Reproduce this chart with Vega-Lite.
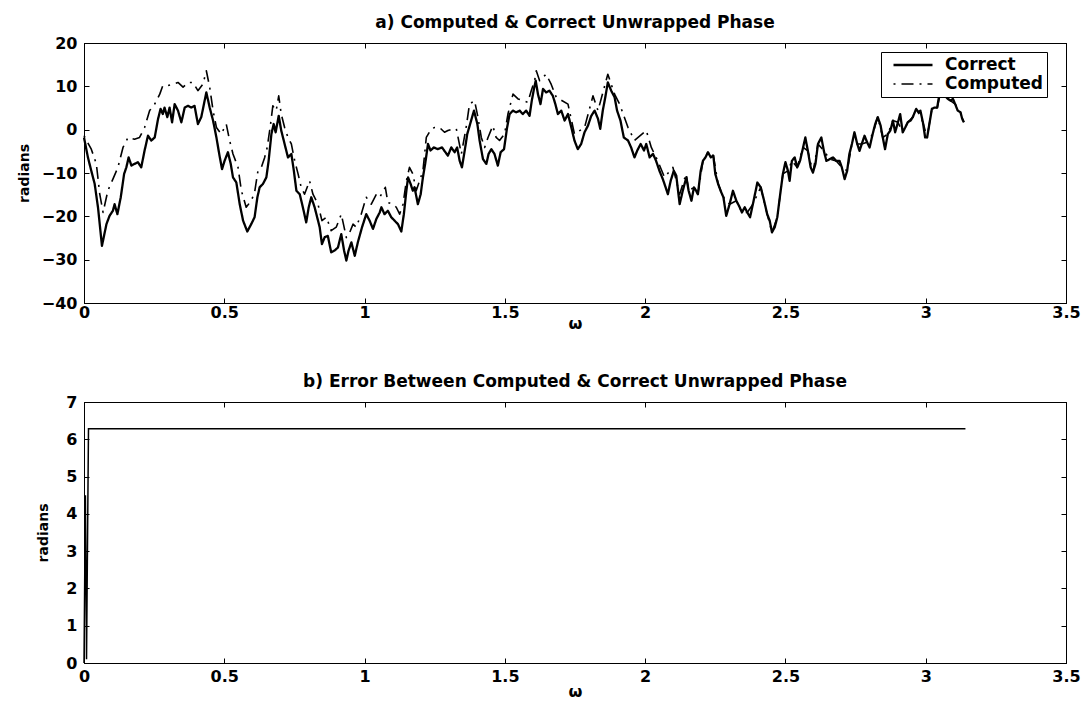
{
  "$schema": "https://vega.github.io/schema/vega-lite/v6.json",
  "background": "white",
  "padding": {"left": 16, "top": 13, "right": 5, "bottom": 5},
  "config": {
    "font": "DejaVu Sans",
    "view": {"stroke": "black", "strokeWidth": 1},
    "axis": {"grid": false, "domainColor": "black", "domainWidth": 1, "tickColor": "black", "tickSize": -5, "tickWidth": 1, "labelColor": "black", "labelFont": "DejaVu Sans", "labelFontSize": 16, "labelFontWeight": "bold", "titleColor": "black", "titleFont": "DejaVu Sans", "titleFontWeight": "bold", "labelFlush": false, "labelOverlap": false},
    "axisX": {"titleFontSize": 16, "titlePadding": -1, "labelPadding": 10},
    "axisY": {"titleFontSize": 14, "labelPadding": 12},
    "title": {"font": "DejaVu Sans", "fontSize": 17, "fontWeight": "bold", "color": "black", "anchor": "middle", "frame": "group", "baseline": "alphabetic", "offset": 3}
  },
  "datasets": {
    "phase": [
      {"w": 0.000, "series": "Correct", "phase": -1.8},
      {"w": 0.014, "series": "Correct", "phase": -6.4},
      {"w": 0.026, "series": "Correct", "phase": -9.5},
      {"w": 0.038, "series": "Correct", "phase": -12.5},
      {"w": 0.050, "series": "Correct", "phase": -18.0},
      {"w": 0.064, "series": "Correct", "phase": -26.8},
      {"w": 0.080, "series": "Correct", "phase": -21.8},
      {"w": 0.091, "series": "Correct", "phase": -19.9},
      {"w": 0.103, "series": "Correct", "phase": -18.7},
      {"w": 0.109, "series": "Correct", "phase": -17.2},
      {"w": 0.119, "series": "Correct", "phase": -19.5},
      {"w": 0.131, "series": "Correct", "phase": -15.6},
      {"w": 0.143, "series": "Correct", "phase": -10.2},
      {"w": 0.151, "series": "Correct", "phase": -8.7},
      {"w": 0.159, "series": "Correct", "phase": -6.4},
      {"w": 0.169, "series": "Correct", "phase": -8.3},
      {"w": 0.180, "series": "Correct", "phase": -7.9},
      {"w": 0.192, "series": "Correct", "phase": -7.5},
      {"w": 0.204, "series": "Correct", "phase": -8.7},
      {"w": 0.216, "series": "Correct", "phase": -4.8},
      {"w": 0.228, "series": "Correct", "phase": -1.4},
      {"w": 0.240, "series": "Correct", "phase": -2.5},
      {"w": 0.252, "series": "Correct", "phase": -1.8},
      {"w": 0.264, "series": "Correct", "phase": 2.5},
      {"w": 0.273, "series": "Correct", "phase": 4.8},
      {"w": 0.281, "series": "Correct", "phase": 3.6},
      {"w": 0.287, "series": "Correct", "phase": 5.1},
      {"w": 0.297, "series": "Correct", "phase": 2.9},
      {"w": 0.305, "series": "Correct", "phase": 5.1},
      {"w": 0.314, "series": "Correct", "phase": 1.7},
      {"w": 0.323, "series": "Correct", "phase": 5.9},
      {"w": 0.335, "series": "Correct", "phase": 4.4},
      {"w": 0.347, "series": "Correct", "phase": 1.7},
      {"w": 0.359, "series": "Correct", "phase": 5.1},
      {"w": 0.371, "series": "Correct", "phase": 5.5},
      {"w": 0.382, "series": "Correct", "phase": 5.1},
      {"w": 0.394, "series": "Correct", "phase": 5.5},
      {"w": 0.406, "series": "Correct", "phase": 1.3},
      {"w": 0.418, "series": "Correct", "phase": 2.9},
      {"w": 0.436, "series": "Correct", "phase": 8.6},
      {"w": 0.448, "series": "Correct", "phase": 5.1},
      {"w": 0.460, "series": "Correct", "phase": 2.1},
      {"w": 0.472, "series": "Correct", "phase": -1.8},
      {"w": 0.483, "series": "Correct", "phase": -6.0},
      {"w": 0.492, "series": "Correct", "phase": -9.1},
      {"w": 0.501, "series": "Correct", "phase": -7.2},
      {"w": 0.513, "series": "Correct", "phase": -5.2},
      {"w": 0.523, "series": "Correct", "phase": -7.9},
      {"w": 0.531, "series": "Correct", "phase": -11.0},
      {"w": 0.543, "series": "Correct", "phase": -12.2},
      {"w": 0.555, "series": "Correct", "phase": -17.2},
      {"w": 0.567, "series": "Correct", "phase": -21.0},
      {"w": 0.582, "series": "Correct", "phase": -23.5},
      {"w": 0.596, "series": "Correct", "phase": -21.8},
      {"w": 0.608, "series": "Correct", "phase": -20.2},
      {"w": 0.618, "series": "Correct", "phase": -15.6},
      {"w": 0.626, "series": "Correct", "phase": -13.3},
      {"w": 0.638, "series": "Correct", "phase": -12.5},
      {"w": 0.650, "series": "Correct", "phase": -11.0},
      {"w": 0.658, "series": "Correct", "phase": -7.2},
      {"w": 0.668, "series": "Correct", "phase": -1.0},
      {"w": 0.676, "series": "Correct", "phase": 1.3},
      {"w": 0.683, "series": "Correct", "phase": -0.6},
      {"w": 0.694, "series": "Correct", "phase": 3.2},
      {"w": 0.703, "series": "Correct", "phase": -0.2},
      {"w": 0.715, "series": "Correct", "phase": -3.3},
      {"w": 0.727, "series": "Correct", "phase": -6.4},
      {"w": 0.739, "series": "Correct", "phase": -5.6},
      {"w": 0.748, "series": "Correct", "phase": -9.5},
      {"w": 0.757, "series": "Correct", "phase": -14.1},
      {"w": 0.769, "series": "Correct", "phase": -14.9},
      {"w": 0.780, "series": "Correct", "phase": -17.9},
      {"w": 0.792, "series": "Correct", "phase": -21.4},
      {"w": 0.801, "series": "Correct", "phase": -17.9},
      {"w": 0.810, "series": "Correct", "phase": -15.6},
      {"w": 0.822, "series": "Correct", "phase": -17.9},
      {"w": 0.831, "series": "Correct", "phase": -20.2},
      {"w": 0.840, "series": "Correct", "phase": -22.5},
      {"w": 0.848, "series": "Correct", "phase": -26.4},
      {"w": 0.858, "series": "Correct", "phase": -24.8},
      {"w": 0.869, "series": "Correct", "phase": -24.5},
      {"w": 0.881, "series": "Correct", "phase": -28.3},
      {"w": 0.893, "series": "Correct", "phase": -27.9},
      {"w": 0.905, "series": "Correct", "phase": -27.2},
      {"w": 0.917, "series": "Correct", "phase": -24.1},
      {"w": 0.927, "series": "Correct", "phase": -27.9},
      {"w": 0.935, "series": "Correct", "phase": -30.2},
      {"w": 0.943, "series": "Correct", "phase": -27.9},
      {"w": 0.953, "series": "Correct", "phase": -26.0},
      {"w": 0.965, "series": "Correct", "phase": -29.1},
      {"w": 0.976, "series": "Correct", "phase": -26.0},
      {"w": 0.991, "series": "Correct", "phase": -22.5},
      {"w": 1.006, "series": "Correct", "phase": -19.5},
      {"w": 1.018, "series": "Correct", "phase": -21.0},
      {"w": 1.030, "series": "Correct", "phase": -22.9},
      {"w": 1.042, "series": "Correct", "phase": -20.6},
      {"w": 1.054, "series": "Correct", "phase": -19.1},
      {"w": 1.060, "series": "Correct", "phase": -17.9},
      {"w": 1.071, "series": "Correct", "phase": -19.5},
      {"w": 1.083, "series": "Correct", "phase": -18.7},
      {"w": 1.095, "series": "Correct", "phase": -20.2},
      {"w": 1.107, "series": "Correct", "phase": -21.0},
      {"w": 1.119, "series": "Correct", "phase": -21.8},
      {"w": 1.131, "series": "Correct", "phase": -23.5},
      {"w": 1.140, "series": "Correct", "phase": -19.5},
      {"w": 1.149, "series": "Correct", "phase": -14.1},
      {"w": 1.155, "series": "Correct", "phase": -11.0},
      {"w": 1.164, "series": "Correct", "phase": -12.5},
      {"w": 1.172, "series": "Correct", "phase": -14.1},
      {"w": 1.178, "series": "Correct", "phase": -13.3},
      {"w": 1.190, "series": "Correct", "phase": -17.2},
      {"w": 1.200, "series": "Correct", "phase": -14.9},
      {"w": 1.208, "series": "Correct", "phase": -11.0},
      {"w": 1.216, "series": "Correct", "phase": -7.9},
      {"w": 1.226, "series": "Correct", "phase": -3.3},
      {"w": 1.235, "series": "Correct", "phase": -4.8},
      {"w": 1.247, "series": "Correct", "phase": -4.1},
      {"w": 1.261, "series": "Correct", "phase": -4.5},
      {"w": 1.276, "series": "Correct", "phase": -4.1},
      {"w": 1.288, "series": "Correct", "phase": -5.2},
      {"w": 1.297, "series": "Correct", "phase": -6.0},
      {"w": 1.309, "series": "Correct", "phase": -4.1},
      {"w": 1.321, "series": "Correct", "phase": -5.2},
      {"w": 1.330, "series": "Correct", "phase": -4.1},
      {"w": 1.339, "series": "Correct", "phase": -7.2},
      {"w": 1.347, "series": "Correct", "phase": -8.7},
      {"w": 1.357, "series": "Correct", "phase": -4.8},
      {"w": 1.366, "series": "Correct", "phase": -1.0},
      {"w": 1.378, "series": "Correct", "phase": 1.7},
      {"w": 1.390, "series": "Correct", "phase": 4.4},
      {"w": 1.402, "series": "Correct", "phase": 1.3},
      {"w": 1.410, "series": "Correct", "phase": -2.5},
      {"w": 1.422, "series": "Correct", "phase": -6.8},
      {"w": 1.434, "series": "Correct", "phase": -7.9},
      {"w": 1.442, "series": "Correct", "phase": -5.6},
      {"w": 1.452, "series": "Correct", "phase": -4.5},
      {"w": 1.463, "series": "Correct", "phase": -5.6},
      {"w": 1.475, "series": "Correct", "phase": -8.3},
      {"w": 1.485, "series": "Correct", "phase": -5.2},
      {"w": 1.497, "series": "Correct", "phase": -4.5},
      {"w": 1.508, "series": "Correct", "phase": 0.5},
      {"w": 1.517, "series": "Correct", "phase": 3.6},
      {"w": 1.529, "series": "Correct", "phase": 4.4},
      {"w": 1.541, "series": "Correct", "phase": 4.0},
      {"w": 1.553, "series": "Correct", "phase": 4.4},
      {"w": 1.564, "series": "Correct", "phase": 3.6},
      {"w": 1.576, "series": "Correct", "phase": 4.4},
      {"w": 1.588, "series": "Correct", "phase": 3.2},
      {"w": 1.596, "series": "Correct", "phase": 6.7},
      {"w": 1.604, "series": "Correct", "phase": 9.5},
      {"w": 1.610, "series": "Correct", "phase": 11.3},
      {"w": 1.618, "series": "Correct", "phase": 8.2},
      {"w": 1.627, "series": "Correct", "phase": 5.9},
      {"w": 1.636, "series": "Correct", "phase": 9.4},
      {"w": 1.647, "series": "Correct", "phase": 8.6},
      {"w": 1.659, "series": "Correct", "phase": 9.0},
      {"w": 1.671, "series": "Correct", "phase": 7.8},
      {"w": 1.680, "series": "Correct", "phase": 5.9},
      {"w": 1.689, "series": "Correct", "phase": 3.6},
      {"w": 1.701, "series": "Correct", "phase": 4.4},
      {"w": 1.713, "series": "Correct", "phase": 2.1},
      {"w": 1.725, "series": "Correct", "phase": 3.6},
      {"w": 1.737, "series": "Correct", "phase": 0.5},
      {"w": 1.748, "series": "Correct", "phase": -2.5},
      {"w": 1.760, "series": "Correct", "phase": -4.5},
      {"w": 1.772, "series": "Correct", "phase": -3.3},
      {"w": 1.784, "series": "Correct", "phase": -0.6},
      {"w": 1.796, "series": "Correct", "phase": 0.9},
      {"w": 1.808, "series": "Correct", "phase": 3.2},
      {"w": 1.820, "series": "Correct", "phase": 4.4},
      {"w": 1.832, "series": "Correct", "phase": 2.5},
      {"w": 1.840, "series": "Correct", "phase": 0.2},
      {"w": 1.849, "series": "Correct", "phase": 4.4},
      {"w": 1.858, "series": "Correct", "phase": 7.5},
      {"w": 1.867, "series": "Correct", "phase": 10.9},
      {"w": 1.879, "series": "Correct", "phase": 9.0},
      {"w": 1.891, "series": "Correct", "phase": 7.5},
      {"w": 1.900, "series": "Correct", "phase": 4.4},
      {"w": 1.912, "series": "Correct", "phase": 2.1},
      {"w": 1.924, "series": "Correct", "phase": -1.8},
      {"w": 1.939, "series": "Correct", "phase": -2.5},
      {"w": 1.950, "series": "Correct", "phase": -4.1},
      {"w": 1.962, "series": "Correct", "phase": -6.4},
      {"w": 1.972, "series": "Correct", "phase": -4.8},
      {"w": 1.984, "series": "Correct", "phase": -3.3},
      {"w": 1.996, "series": "Correct", "phase": -4.8},
      {"w": 2.004, "series": "Correct", "phase": -3.3},
      {"w": 2.016, "series": "Correct", "phase": -6.4},
      {"w": 2.028, "series": "Correct", "phase": -5.6},
      {"w": 2.039, "series": "Correct", "phase": -7.2},
      {"w": 2.051, "series": "Correct", "phase": -9.5},
      {"w": 2.063, "series": "Correct", "phase": -11.4},
      {"w": 2.073, "series": "Correct", "phase": -13.3},
      {"w": 2.081, "series": "Correct", "phase": -14.9},
      {"w": 2.091, "series": "Correct", "phase": -11.8},
      {"w": 2.102, "series": "Correct", "phase": -9.5},
      {"w": 2.111, "series": "Correct", "phase": -10.6},
      {"w": 2.123, "series": "Correct", "phase": -17.2},
      {"w": 2.134, "series": "Correct", "phase": -14.1},
      {"w": 2.147, "series": "Correct", "phase": -11.0},
      {"w": 2.155, "series": "Correct", "phase": -14.1},
      {"w": 2.165, "series": "Correct", "phase": -16.4},
      {"w": 2.174, "series": "Correct", "phase": -13.3},
      {"w": 2.182, "series": "Correct", "phase": -14.1},
      {"w": 2.188, "series": "Correct", "phase": -14.9},
      {"w": 2.198, "series": "Correct", "phase": -9.5},
      {"w": 2.206, "series": "Correct", "phase": -7.2},
      {"w": 2.215, "series": "Correct", "phase": -6.4},
      {"w": 2.224, "series": "Correct", "phase": -5.2},
      {"w": 2.234, "series": "Correct", "phase": -6.4},
      {"w": 2.243, "series": "Correct", "phase": -6.0},
      {"w": 2.250, "series": "Correct", "phase": -10.2},
      {"w": 2.260, "series": "Correct", "phase": -12.5},
      {"w": 2.269, "series": "Correct", "phase": -14.1},
      {"w": 2.279, "series": "Correct", "phase": -15.6},
      {"w": 2.289, "series": "Correct", "phase": -19.9},
      {"w": 2.301, "series": "Correct", "phase": -17.2},
      {"w": 2.313, "series": "Correct", "phase": -14.1},
      {"w": 2.325, "series": "Correct", "phase": -16.4},
      {"w": 2.337, "series": "Correct", "phase": -17.9},
      {"w": 2.345, "series": "Correct", "phase": -19.1},
      {"w": 2.355, "series": "Correct", "phase": -17.9},
      {"w": 2.364, "series": "Correct", "phase": -19.1},
      {"w": 2.374, "series": "Correct", "phase": -20.2},
      {"w": 2.384, "series": "Correct", "phase": -17.2},
      {"w": 2.400, "series": "Correct", "phase": -12.2},
      {"w": 2.412, "series": "Correct", "phase": -13.3},
      {"w": 2.424, "series": "Correct", "phase": -16.4},
      {"w": 2.435, "series": "Correct", "phase": -19.5},
      {"w": 2.444, "series": "Correct", "phase": -21.0},
      {"w": 2.452, "series": "Correct", "phase": -23.7},
      {"w": 2.462, "series": "Correct", "phase": -22.5},
      {"w": 2.471, "series": "Correct", "phase": -20.2},
      {"w": 2.483, "series": "Correct", "phase": -14.1},
      {"w": 2.491, "series": "Correct", "phase": -10.2},
      {"w": 2.500, "series": "Correct", "phase": -7.5},
      {"w": 2.509, "series": "Correct", "phase": -9.5},
      {"w": 2.515, "series": "Correct", "phase": -11.8},
      {"w": 2.523, "series": "Correct", "phase": -7.2},
      {"w": 2.533, "series": "Correct", "phase": -6.4},
      {"w": 2.542, "series": "Correct", "phase": -8.7},
      {"w": 2.552, "series": "Correct", "phase": -7.2},
      {"w": 2.563, "series": "Correct", "phase": -4.1},
      {"w": 2.571, "series": "Correct", "phase": -1.8},
      {"w": 2.580, "series": "Correct", "phase": -4.9},
      {"w": 2.590, "series": "Correct", "phase": -8.7},
      {"w": 2.598, "series": "Correct", "phase": -9.9},
      {"w": 2.607, "series": "Correct", "phase": -7.9},
      {"w": 2.616, "series": "Correct", "phase": -3.3},
      {"w": 2.628, "series": "Correct", "phase": -1.8},
      {"w": 2.637, "series": "Correct", "phase": -4.9},
      {"w": 2.646, "series": "Correct", "phase": -7.2},
      {"w": 2.658, "series": "Correct", "phase": -6.8},
      {"w": 2.670, "series": "Correct", "phase": -6.4},
      {"w": 2.681, "series": "Correct", "phase": -7.2},
      {"w": 2.693, "series": "Correct", "phase": -7.2},
      {"w": 2.701, "series": "Correct", "phase": -8.7},
      {"w": 2.711, "series": "Correct", "phase": -11.4},
      {"w": 2.720, "series": "Correct", "phase": -9.5},
      {"w": 2.728, "series": "Correct", "phase": -5.6},
      {"w": 2.737, "series": "Correct", "phase": -3.3},
      {"w": 2.746, "series": "Correct", "phase": -0.6},
      {"w": 2.756, "series": "Correct", "phase": -3.3},
      {"w": 2.764, "series": "Correct", "phase": -4.9},
      {"w": 2.772, "series": "Correct", "phase": -3.3},
      {"w": 2.782, "series": "Correct", "phase": -1.4},
      {"w": 2.791, "series": "Correct", "phase": -2.9},
      {"w": 2.800, "series": "Correct", "phase": -4.1},
      {"w": 2.811, "series": "Correct", "phase": -1.0},
      {"w": 2.820, "series": "Correct", "phase": 1.3},
      {"w": 2.829, "series": "Correct", "phase": 2.9},
      {"w": 2.839, "series": "Correct", "phase": 1.0},
      {"w": 2.847, "series": "Correct", "phase": -1.8},
      {"w": 2.855, "series": "Correct", "phase": -4.5},
      {"w": 2.865, "series": "Correct", "phase": -1.0},
      {"w": 2.874, "series": "Correct", "phase": -0.2},
      {"w": 2.883, "series": "Correct", "phase": 2.1},
      {"w": 2.891, "series": "Correct", "phase": -0.6},
      {"w": 2.901, "series": "Correct", "phase": 1.7},
      {"w": 2.909, "series": "Correct", "phase": 3.6},
      {"w": 2.918, "series": "Correct", "phase": -0.6},
      {"w": 2.927, "series": "Correct", "phase": 0.5},
      {"w": 2.936, "series": "Correct", "phase": 1.7},
      {"w": 2.946, "series": "Correct", "phase": 2.1},
      {"w": 2.954, "series": "Correct", "phase": 2.9},
      {"w": 2.966, "series": "Correct", "phase": 4.8},
      {"w": 2.974, "series": "Correct", "phase": 4.0},
      {"w": 2.981, "series": "Correct", "phase": 4.4},
      {"w": 2.990, "series": "Correct", "phase": 1.7},
      {"w": 2.998, "series": "Correct", "phase": -1.8},
      {"w": 3.005, "series": "Correct", "phase": -1.8},
      {"w": 3.013, "series": "Correct", "phase": 1.3},
      {"w": 3.022, "series": "Correct", "phase": 4.8},
      {"w": 3.031, "series": "Correct", "phase": 5.1},
      {"w": 3.041, "series": "Correct", "phase": 5.1},
      {"w": 3.046, "series": "Correct", "phase": 7.1},
      {"w": 3.053, "series": "Correct", "phase": 8.6},
      {"w": 3.061, "series": "Correct", "phase": 9.0},
      {"w": 3.069, "series": "Correct", "phase": 7.8},
      {"w": 3.079, "series": "Correct", "phase": 7.1},
      {"w": 3.088, "series": "Correct", "phase": 6.7},
      {"w": 3.097, "series": "Correct", "phase": 7.1},
      {"w": 3.105, "series": "Correct", "phase": 5.9},
      {"w": 3.114, "series": "Correct", "phase": 4.4},
      {"w": 3.124, "series": "Correct", "phase": 4.0},
      {"w": 3.130, "series": "Correct", "phase": 2.5},
      {"w": 3.136, "series": "Correct", "phase": 1.7},
      {"w": 0.000, "series": "Computed", "phase": -1.4},
      {"w": 0.026, "series": "Computed", "phase": -4.5},
      {"w": 0.044, "series": "Computed", "phase": -7.9},
      {"w": 0.056, "series": "Computed", "phase": -14.8},
      {"w": 0.068, "series": "Computed", "phase": -19.1},
      {"w": 0.085, "series": "Computed", "phase": -14.1},
      {"w": 0.103, "series": "Computed", "phase": -11.4},
      {"w": 0.121, "series": "Computed", "phase": -8.7},
      {"w": 0.139, "series": "Computed", "phase": -4.1},
      {"w": 0.157, "series": "Computed", "phase": -1.8},
      {"w": 0.180, "series": "Computed", "phase": -2.2},
      {"w": 0.198, "series": "Computed", "phase": -1.8},
      {"w": 0.216, "series": "Computed", "phase": 0.5},
      {"w": 0.234, "series": "Computed", "phase": 4.4},
      {"w": 0.252, "series": "Computed", "phase": 5.9},
      {"w": 0.270, "series": "Computed", "phase": 8.2},
      {"w": 0.281, "series": "Computed", "phase": 10.2},
      {"w": 0.299, "series": "Computed", "phase": 10.2},
      {"w": 0.317, "series": "Computed", "phase": 10.5},
      {"w": 0.335, "series": "Computed", "phase": 10.9},
      {"w": 0.353, "series": "Computed", "phase": 9.8},
      {"w": 0.371, "series": "Computed", "phase": 10.9},
      {"w": 0.388, "series": "Computed", "phase": 10.9},
      {"w": 0.406, "series": "Computed", "phase": 9.0},
      {"w": 0.424, "series": "Computed", "phase": 10.5},
      {"w": 0.436, "series": "Computed", "phase": 13.6},
      {"w": 0.448, "series": "Computed", "phase": 9.8},
      {"w": 0.460, "series": "Computed", "phase": 4.4},
      {"w": 0.472, "series": "Computed", "phase": 0.5},
      {"w": 0.489, "series": "Computed", "phase": -1.0},
      {"w": 0.507, "series": "Computed", "phase": 1.3},
      {"w": 0.519, "series": "Computed", "phase": -2.5},
      {"w": 0.531, "series": "Computed", "phase": -5.6},
      {"w": 0.549, "series": "Computed", "phase": -8.7},
      {"w": 0.561, "series": "Computed", "phase": -14.1},
      {"w": 0.578, "series": "Computed", "phase": -17.9},
      {"w": 0.596, "series": "Computed", "phase": -16.4},
      {"w": 0.608, "series": "Computed", "phase": -14.5},
      {"w": 0.620, "series": "Computed", "phase": -9.5},
      {"w": 0.632, "series": "Computed", "phase": -8.7},
      {"w": 0.644, "series": "Computed", "phase": -6.4},
      {"w": 0.653, "series": "Computed", "phase": -4.1},
      {"w": 0.665, "series": "Computed", "phase": 1.3},
      {"w": 0.673, "series": "Computed", "phase": 5.5},
      {"w": 0.685, "series": "Computed", "phase": 4.4},
      {"w": 0.694, "series": "Computed", "phase": 7.8},
      {"w": 0.703, "series": "Computed", "phase": 3.6},
      {"w": 0.715, "series": "Computed", "phase": 0.5},
      {"w": 0.727, "series": "Computed", "phase": -1.8},
      {"w": 0.739, "series": "Computed", "phase": -3.3},
      {"w": 0.751, "series": "Computed", "phase": -7.2},
      {"w": 0.763, "series": "Computed", "phase": -10.2},
      {"w": 0.774, "series": "Computed", "phase": -13.3},
      {"w": 0.786, "series": "Computed", "phase": -14.9},
      {"w": 0.804, "series": "Computed", "phase": -11.8},
      {"w": 0.816, "series": "Computed", "phase": -14.9},
      {"w": 0.834, "series": "Computed", "phase": -17.2},
      {"w": 0.848, "series": "Computed", "phase": -21.0},
      {"w": 0.864, "series": "Computed", "phase": -20.2},
      {"w": 0.881, "series": "Computed", "phase": -23.3},
      {"w": 0.899, "series": "Computed", "phase": -22.5},
      {"w": 0.917, "series": "Computed", "phase": -19.5},
      {"w": 0.935, "series": "Computed", "phase": -24.9},
      {"w": 0.947, "series": "Computed", "phase": -23.7},
      {"w": 0.959, "series": "Computed", "phase": -21.8},
      {"w": 0.970, "series": "Computed", "phase": -22.5},
      {"w": 0.988, "series": "Computed", "phase": -19.5},
      {"w": 1.006, "series": "Computed", "phase": -15.6},
      {"w": 1.024, "series": "Computed", "phase": -17.2},
      {"w": 1.042, "series": "Computed", "phase": -14.9},
      {"w": 1.054, "series": "Computed", "phase": -15.6},
      {"w": 1.074, "series": "Computed", "phase": -13.3},
      {"w": 1.083, "series": "Computed", "phase": -16.8},
      {"w": 1.101, "series": "Computed", "phase": -17.2},
      {"w": 1.113, "series": "Computed", "phase": -17.9},
      {"w": 1.125, "series": "Computed", "phase": -19.5},
      {"w": 1.137, "series": "Computed", "phase": -17.2},
      {"w": 1.149, "series": "Computed", "phase": -11.8},
      {"w": 1.160, "series": "Computed", "phase": -8.7},
      {"w": 1.172, "series": "Computed", "phase": -10.2},
      {"w": 1.184, "series": "Computed", "phase": -14.1},
      {"w": 1.196, "series": "Computed", "phase": -11.8},
      {"w": 1.208, "series": "Computed", "phase": -9.5},
      {"w": 1.220, "series": "Computed", "phase": -1.8},
      {"w": 1.238, "series": "Computed", "phase": 0.2},
      {"w": 1.250, "series": "Computed", "phase": 0.5},
      {"w": 1.267, "series": "Computed", "phase": 0.5},
      {"w": 1.285, "series": "Computed", "phase": -0.6},
      {"w": 1.297, "series": "Computed", "phase": -0.2},
      {"w": 1.315, "series": "Computed", "phase": 0.2},
      {"w": 1.327, "series": "Computed", "phase": 0.2},
      {"w": 1.345, "series": "Computed", "phase": -5.6},
      {"w": 1.362, "series": "Computed", "phase": 0.5},
      {"w": 1.374, "series": "Computed", "phase": 5.9},
      {"w": 1.392, "series": "Computed", "phase": 6.7},
      {"w": 1.404, "series": "Computed", "phase": 2.9},
      {"w": 1.416, "series": "Computed", "phase": -1.8},
      {"w": 1.428, "series": "Computed", "phase": -4.1},
      {"w": 1.440, "series": "Computed", "phase": -1.8},
      {"w": 1.457, "series": "Computed", "phase": 0.9},
      {"w": 1.469, "series": "Computed", "phase": -1.8},
      {"w": 1.481, "series": "Computed", "phase": -2.5},
      {"w": 1.499, "series": "Computed", "phase": -1.0},
      {"w": 1.511, "series": "Computed", "phase": 3.6},
      {"w": 1.529, "series": "Computed", "phase": 8.2},
      {"w": 1.547, "series": "Computed", "phase": 7.1},
      {"w": 1.564, "series": "Computed", "phase": 6.7},
      {"w": 1.582, "series": "Computed", "phase": 6.3},
      {"w": 1.594, "series": "Computed", "phase": 9.0},
      {"w": 1.606, "series": "Computed", "phase": 11.3},
      {"w": 1.612, "series": "Computed", "phase": 13.6},
      {"w": 1.624, "series": "Computed", "phase": 11.3},
      {"w": 1.647, "series": "Computed", "phase": 12.8},
      {"w": 1.665, "series": "Computed", "phase": 10.5},
      {"w": 1.683, "series": "Computed", "phase": 7.5},
      {"w": 1.725, "series": "Computed", "phase": 5.9},
      {"w": 1.748, "series": "Computed", "phase": -1.0},
      {"w": 1.784, "series": "Computed", "phase": 0.5},
      {"w": 1.814, "series": "Computed", "phase": 7.8},
      {"w": 1.832, "series": "Computed", "phase": 4.4},
      {"w": 1.867, "series": "Computed", "phase": 12.8},
      {"w": 1.891, "series": "Computed", "phase": 8.2},
      {"w": 1.909, "series": "Computed", "phase": 5.9},
      {"w": 1.939, "series": "Computed", "phase": 0.5},
      {"w": 1.962, "series": "Computed", "phase": -2.5},
      {"w": 2.004, "series": "Computed", "phase": -0.2},
      {"w": 2.022, "series": "Computed", "phase": -4.1},
      {"w": 2.045, "series": "Computed", "phase": -7.2},
      {"w": 2.069, "series": "Computed", "phase": -11.0},
      {"w": 2.099, "series": "Computed", "phase": -8.7},
      {"w": 2.123, "series": "Computed", "phase": -14.9},
      {"w": 2.146, "series": "Computed", "phase": -10.2},
      {"w": 2.155, "series": "Computed", "phase": -14.1},
      {"w": 2.174, "series": "Computed", "phase": -13.3},
      {"w": 2.188, "series": "Computed", "phase": -14.9},
      {"w": 2.206, "series": "Computed", "phase": -7.2},
      {"w": 2.224, "series": "Computed", "phase": -5.2},
      {"w": 2.243, "series": "Computed", "phase": -6.0},
      {"w": 2.260, "series": "Computed", "phase": -12.5},
      {"w": 2.279, "series": "Computed", "phase": -15.6},
      {"w": 2.301, "series": "Computed", "phase": -17.2},
      {"w": 2.325, "series": "Computed", "phase": -16.4},
      {"w": 2.345, "series": "Computed", "phase": -19.1},
      {"w": 2.364, "series": "Computed", "phase": -19.1},
      {"w": 2.384, "series": "Computed", "phase": -17.2},
      {"w": 2.412, "series": "Computed", "phase": -13.3},
      {"w": 2.435, "series": "Computed", "phase": -19.5},
      {"w": 2.452, "series": "Computed", "phase": -23.7},
      {"w": 2.471, "series": "Computed", "phase": -20.2},
      {"w": 2.491, "series": "Computed", "phase": -10.2},
      {"w": 2.509, "series": "Computed", "phase": -9.5},
      {"w": 2.523, "series": "Computed", "phase": -7.2},
      {"w": 2.542, "series": "Computed", "phase": -8.7},
      {"w": 2.563, "series": "Computed", "phase": -4.1},
      {"w": 2.580, "series": "Computed", "phase": -4.9},
      {"w": 2.598, "series": "Computed", "phase": -9.9},
      {"w": 2.616, "series": "Computed", "phase": -3.3},
      {"w": 2.637, "series": "Computed", "phase": -4.9},
      {"w": 2.658, "series": "Computed", "phase": -6.8},
      {"w": 2.681, "series": "Computed", "phase": -7.2},
      {"w": 2.701, "series": "Computed", "phase": -8.7},
      {"w": 2.720, "series": "Computed", "phase": -9.5},
      {"w": 2.737, "series": "Computed", "phase": -3.3},
      {"w": 2.756, "series": "Computed", "phase": -3.3},
      {"w": 2.772, "series": "Computed", "phase": -3.3},
      {"w": 2.791, "series": "Computed", "phase": -2.9},
      {"w": 2.811, "series": "Computed", "phase": -1.0},
      {"w": 2.829, "series": "Computed", "phase": 2.9},
      {"w": 2.847, "series": "Computed", "phase": -1.8},
      {"w": 2.865, "series": "Computed", "phase": -1.0},
      {"w": 2.883, "series": "Computed", "phase": 2.1},
      {"w": 2.901, "series": "Computed", "phase": 1.7},
      {"w": 2.918, "series": "Computed", "phase": -0.6},
      {"w": 2.936, "series": "Computed", "phase": 1.7},
      {"w": 2.954, "series": "Computed", "phase": 2.9},
      {"w": 2.974, "series": "Computed", "phase": 4.0},
      {"w": 2.990, "series": "Computed", "phase": 1.7},
      {"w": 3.005, "series": "Computed", "phase": -1.8},
      {"w": 3.022, "series": "Computed", "phase": 4.8},
      {"w": 3.041, "series": "Computed", "phase": 5.1},
      {"w": 3.053, "series": "Computed", "phase": 8.6},
      {"w": 3.069, "series": "Computed", "phase": 7.8},
      {"w": 3.088, "series": "Computed", "phase": 6.7},
      {"w": 3.105, "series": "Computed", "phase": 5.9},
      {"w": 3.124, "series": "Computed", "phase": 4.0},
      {"w": 3.136, "series": "Computed", "phase": 1.7}
    ],
    "err": [
      {"w": 0.0, "err": 0.0},
      {"w": 0.005, "err": 4.5},
      {"w": 0.009, "err": 0.1},
      {"w": 0.016, "err": 6.28},
      {"w": 3.1416, "err": 6.28}
    ]
  },
  "vconcat": [
    {
      "width": 982,
      "height": 260,
      "title": {"text": "a) Computed & Correct Unwrapped Phase"},
      "data": {"name": "phase"},
      "resolve": {"axis": {"x": "independent", "y": "independent"}},
      "layer": [
        {
          "mark": {"type": "line", "color": "black", "strokeJoin": "round"},
          "encoding": {
            "x": {"field": "w", "type": "quantitative", "scale": {"domain": [0, 3.5], "nice": false, "zero": false}, "axis": {"values": [0, 0.5, 1, 1.5, 2, 2.5, 3, 3.5], "format": "~g", "title": "ω", "labelPadding": 6, "titlePadding": -5}},
            "y": {"field": "phase", "type": "quantitative", "scale": {"domain": [-40, 20], "nice": false, "zero": false}, "axis": {"values": [-40, -30, -20, -10, 0, 10, 20], "title": "radians", "titlePadding": 10}},
            "order": {"field": "w", "type": "quantitative"},
            "strokeDash": {"field": "series", "type": "nominal", "scale": {"domain": ["Correct", "Computed"], "range": [[1, 0], [2, 6, 12, 6]]}, "legend": {"title": null, "orient": "none", "legendX": 797, "legendY": 9, "fillColor": "white", "strokeColor": "black", "padding": 4, "rowPadding": 1, "clipHeight": 18, "symbolType": "stroke", "symbolSize": 1521, "symbolOffset": 7, "symbolStrokeColor": "black", "labelOffset": 11, "labelFont": "DejaVu Sans", "labelFontSize": 17, "labelFontWeight": "bold", "labelColor": "black", "labelExpr": "datum.label + '\u00a0\u00a0\u00a0\u00a0\u00a0\u00a0'"}},
            "strokeWidth": {"field": "series", "type": "nominal", "scale": {"domain": ["Correct", "Computed"], "range": [2.3, 1.6]}, "legend": {"title": null, "orient": "none", "legendX": 797, "legendY": 9, "fillColor": "white", "strokeColor": "black", "padding": 4, "rowPadding": 1, "clipHeight": 18, "symbolType": "stroke", "symbolSize": 1521, "symbolOffset": 7, "symbolStrokeColor": "black", "labelOffset": 11, "labelFont": "DejaVu Sans", "labelFontSize": 17, "labelFontWeight": "bold", "labelColor": "black", "labelExpr": "datum.label + '\u00a0\u00a0\u00a0\u00a0\u00a0\u00a0'"}}
          }
        },
        {
          "transform": [{"filter": "datum.w == 0"}],
          "mark": {"type": "point", "opacity": 0},
          "encoding": {
            "x": {"field": "w", "type": "quantitative", "axis": {"orient": "top", "values": [0, 0.5, 1, 1.5, 2, 2.5, 3, 3.5], "labels": false, "title": null}},
            "y": {"field": "phase", "type": "quantitative", "axis": {"orient": "right", "values": [-40, -30, -20, -10, 0, 10, 20], "labels": false, "title": null}}
          }
        }
      ]
    },
    {
      "width": 982,
      "height": 261,
      "title": {"text": "b) Error Between Computed & Correct Unwrapped Phase"},
      "data": {"name": "err"},
      "resolve": {"axis": {"x": "independent", "y": "independent"}},
      "layer": [
        {
          "mark": {"type": "line", "color": "black", "strokeWidth": 1.5},
          "encoding": {
            "x": {"field": "w", "type": "quantitative", "scale": {"domain": [0, 3.5], "nice": false, "zero": false}, "axis": {"values": [0, 0.5, 1, 1.5, 2, 2.5, 3, 3.5], "format": "~g", "title": "ω"}},
            "y": {"field": "err", "type": "quantitative", "scale": {"domain": [0, 7], "nice": false}, "axis": {"values": [0, 1, 2, 3, 4, 5, 6, 7], "title": "radians", "titlePadding": 15}},
            "order": {"field": "w", "type": "quantitative"}
          }
        },
        {
          "transform": [{"filter": "datum.w == 0"}],
          "mark": {"type": "point", "opacity": 0},
          "encoding": {
            "x": {"field": "w", "type": "quantitative", "axis": {"orient": "top", "values": [0, 0.5, 1, 1.5, 2, 2.5, 3, 3.5], "labels": false, "title": null}},
            "y": {"field": "err", "type": "quantitative", "axis": {"orient": "right", "values": [0, 1, 2, 3, 4, 5, 6, 7], "labels": false, "title": null}}
          }
        }
      ]
    }
  ],
  "spacing": 99,
  "bounds": "flush"
}
